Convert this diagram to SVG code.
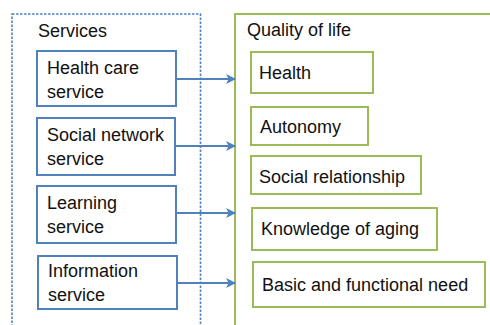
<svg xmlns="http://www.w3.org/2000/svg" width="490" height="325" viewBox="0 0 490 325">
<defs>
<marker id="arr" viewBox="0 0 10 10" refX="9" refY="5" markerWidth="4.5" markerHeight="5" orient="auto" markerUnits="strokeWidth">
<path d="M0,0 L10,5 L0,10 L2.5,5 Z" fill="#4F81BD"/>
</marker>
<style>
text{font-family:"Liberation Sans",Arial,sans-serif;font-size:18px;fill:#111}
.svc{fill:#fff;stroke:#4F81BD;stroke-width:2}
.qol{fill:#fff;stroke:#9BBB59;stroke-width:2}
.con{stroke:#4F81BD;stroke-width:2.2;fill:none;marker-end:url(#arr)}
</style>
</defs>
<rect width="490" height="325" fill="#fff"/>
<g id="services-group">
<rect x="12" y="14" width="188.5" height="330" fill="none" stroke="#4F81BD" stroke-width="1.6" stroke-dasharray="2.5,1.5"/>
<text x="38" y="37">Services</text>
</g>
<g id="quality-group">
<rect x="235" y="14" width="270" height="330" fill="none" stroke="#9BBB59" stroke-width="2"/>
<text x="247" y="36">Quality of life</text>
</g>
<g id="svc-health">
<rect class="svc" x="37" y="51" width="139" height="55"/>
<text x="47" y="74">Health care</text>
<text x="47" y="98">service</text>
</g>
<g id="svc-social">
<rect class="svc" x="37" y="118" width="138" height="57"/>
<text x="47" y="141">Social network</text>
<text x="47" y="165">service</text>
</g>
<g id="svc-learning">
<rect class="svc" x="37" y="186" width="139" height="57"/>
<text x="47" y="209">Learning</text>
<text x="47" y="233">service</text>
</g>
<g id="svc-information">
<rect class="svc" x="38" y="256" width="139" height="53"/>
<text x="48" y="277">Information</text>
<text x="48" y="301">service</text>
</g>
<g id="q-health">
<rect class="qol" x="251" y="52" width="122" height="41"/>
<text x="259" y="79">Health</text>
</g>
<g id="q-autonomy">
<rect class="qol" x="251" y="107" width="117" height="38"/>
<text x="260" y="133">Autonomy</text>
</g>
<g id="q-social">
<rect class="qol" x="251" y="156" width="170" height="38"/>
<text x="259" y="183">Social relationship</text>
</g>
<g id="q-knowledge">
<rect class="qol" x="252" y="208" width="185" height="42"/>
<text x="261" y="235">Knowledge of aging</text>
</g>
<g id="q-basic">
<rect class="qol" x="253" y="262" width="232" height="45"/>
<text x="262" y="291">Basic and functional need</text>
</g>
<g id="connectors">
<line class="con" x1="176" y1="79" x2="235" y2="79"/>
<line class="con" x1="175" y1="146" x2="235" y2="146"/>
<line class="con" x1="176" y1="213" x2="235" y2="213"/>
<line class="con" x1="177" y1="283" x2="235" y2="283"/>
</g>
</svg>
